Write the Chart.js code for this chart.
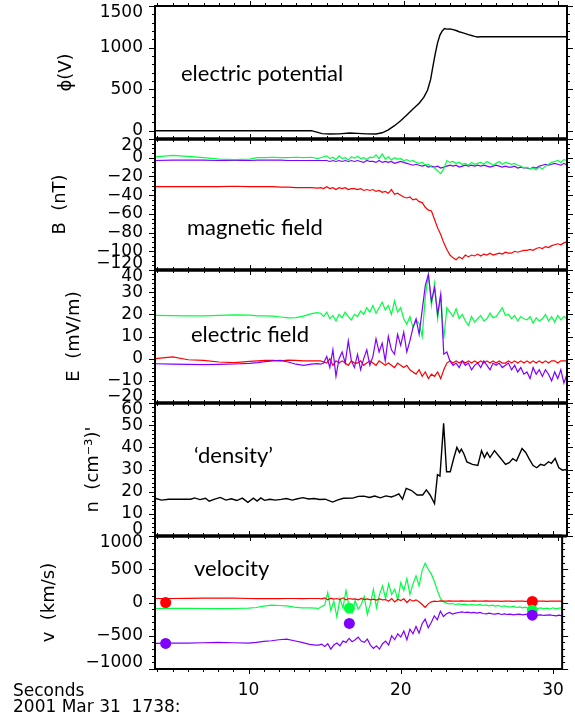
<!DOCTYPE html>
<html>
<head>
<meta charset="utf-8">
<script src="https://cdn.jsdelivr.net/npm/chart.js@4/dist/chart.umd.min.js"></script>
<style>
html, body { margin: 0; padding: 0; background: #fff; overflow: hidden; }
#page { position: relative; width: 575px; height: 719px; overflow: hidden; }
canvas { position: absolute; left: 0; top: -50px; }
.note { position: absolute; font: 22px Lato, sans-serif; line-height: 22px; color: #000; white-space: nowrap; }
.axis { position: absolute; left: 13px; font: 17px "DejaVu Sans", sans-serif; line-height: 17px; color: #000; white-space: pre; }
</style>
</head>
<body>
<div id="page">
<canvas id="phi" width="575" height="819"></canvas>
<canvas id="mag" width="575" height="819"></canvas>
<canvas id="efield" width="575" height="819"></canvas>
<canvas id="dens" width="575" height="819"></canvas>
<canvas id="vel" width="575" height="819"></canvas>
<div class="note" style="left:181px;top:62px">electric potential</div>
<div class="note" style="left:187px;top:216px">magnetic field</div>
<div class="note" style="left:191px;top:323px">electric field</div>
<div class="note" style="left:194px;top:444px">‘density’</div>
<div class="note" style="left:194px;top:557px">velocity</div>
<div class="axis" style="top:682px">Seconds</div>
<div class="axis" style="top:698px">2001 Mar 31  1738:</div>
</div>
<script>
// Time axis (seconds after 17:38)
const T_MIN = 3.85
const T_MAX = 30.6
const xTicks = [10, 20, 30]

// Panel 1: electric potential
const phiT = [3.85, 14.0, 14.3, 14.7, 15.2, 15.8, 16.5, 17.0, 17.6, 18.2, 18.6, 19.0, 19.4, 19.8, 20.2, 20.6, 21.0, 21.3, 21.55, 21.75, 21.9, 22.05, 22.2, 22.35, 22.5, 22.65, 22.8, 23.0, 23.2, 23.4, 23.6, 23.8, 24.0, 24.2, 24.4, 24.6, 24.8, 25.0, 30.6]
const phiV = [0, 0, -15, -35, -40, -38, -28, -32, -38, -40, -25, 10, 60, 120, 190, 260, 330, 400, 490, 620, 780, 930, 1060, 1150, 1200, 1228, 1222, 1225, 1215, 1205, 1190, 1180, 1168, 1155, 1145, 1135, 1128, 1130, 1130]
const phiTicks = [0, 500, 1000, 1500]

// shared time grid for B, E and v
const tFine = [3.85, 5, 6, 7, 8, 9, 10, 10.5, 11, 11.5, 12, 12.5, 13, 13.5, 14, 14.4,
	14.6, 14.8,
	15, 15.2, 15.4, 15.6, 15.8,
	16, 16.2, 16.4, 16.6, 16.8,
	17, 17.2, 17.4, 17.6, 17.8,
	18, 18.2, 18.4, 18.6, 18.8,
	19, 19.2, 19.4, 19.6, 19.8,
	20, 20.2, 20.4, 20.6, 20.8,
	21, 21.2, 21.4, 21.6, 21.8,
	22, 22.2, 22.4, 22.6, 22.8,
	23, 23.2, 23.4, 23.6, 23.8,
	24, 24.2, 24.4, 24.6, 24.8,
	25, 25.2, 25.4, 25.6, 25.8,
	26, 26.2, 26.4, 26.6, 26.8,
	27, 27.2, 27.4, 27.6, 27.8,
	28, 28.2, 28.4, 28.6, 28.8,
	29, 29.2, 29.4, 29.6, 29.8,
	30, 30.2, 30.4, 30.6]

// Panel 2: magnetic field (nT)
const bGreen = [1, 2.5, 1.5, 0, -1.5, -2, -1.5, 0, 0, 0.5, 0, 0, 0.5, 0, 0.5, -1,
	0, 1,
	2, -1, 0.5, -2, 2,
	-1, 0, -2.5, 1, -0.5,
	1.5, -1, 0, -2, 0.5,
	0, 3, -1, 4, -1.5,
	1, -2.5, 0, -1.5, -1,
	-3, -2, -4, -3, -5,
	-6, -5, -8, -7, -10,
	-11, -14, -17, -12, -3,
	-5, -4, -6, -5, -7,
	-6, -8, -5, -7, -6,
	-5, -7, -4, -6, -8,
	-6, -4, -7, -5, -6,
	-7, -6, -8, -9, -11,
	-10, -12, -11, -13, -10,
	-12, -9, -7, -5, -4,
	-3, -5, -2, -3]
const bPurple = [-3, -2.5, -2.5, -2.5, -3, -3, -3, -2.5, -2.5, -2.5, -2.5, -3, -3, -3, -3, -3,
	-3, -3,
	-3, -4, -3, -4, -3,
	-4, -3, -4, -3, -4,
	-3, -4, -5, -3, -4,
	-4, -5, -3, -5, -4,
	-5, -4, -6, -5, -4,
	-5, -6, -7, -8, -7,
	-8, -9, -8, -10, -9,
	-10, -9, -11, -10, -9,
	-8, -9, -8, -10, -9,
	-8, -9, -8, -9, -8,
	-9, -8, -9, -10, -9,
	-8, -9, -10, -9, -10,
	-10, -9, -11, -10, -11,
	-11, -12, -10, -11, -9,
	-8, -7, -8, -7, -6,
	-7, -8, -6, -8]
const bRed = [-31, -31, -31, -31, -31, -30.5, -31, -31, -31, -31, -31.5, -31.5, -32, -32, -32, -32.5,
	-32, -33,
	-31, -33, -32, -34, -32,
	-33, -32, -34, -33, -33,
	-34, -33, -35, -34, -35,
	-34, -36, -35, -37, -36,
	-38, -34, -39, -38, -40,
	-42, -43, -42, -45, -44,
	-47, -48, -53, -56, -57,
	-66, -75, -82, -91, -98,
	-104, -107, -109, -106, -108,
	-104, -106, -104, -105, -103,
	-105, -103, -104, -102, -104,
	-103, -102, -103, -101, -102,
	-102, -100, -101, -100, -99,
	-99, -98, -99, -97, -96,
	-97, -95, -96, -94, -93,
	-92, -93, -91, -90]
const bTicks = [-120, -100, -80, -60, -40, -20, 0, 20]

// Panel 3: electric field (mV/m)
const eGreen = [19.5, 19.4, 19.3, 19.3, 19.5, 19.8, 19.6, 19.3, 19.3, 19.2, 18.8, 18.4, 18.5, 19.2, 20.3, 20.8,
	20.5, 19,
	21, 18, 19.5, 17, 20,
	18.5, 21, 19, 17.5, 20,
	19, 21.5, 20, 23, 21,
	24, 20.5, 23, 25.5, 22,
	24, 20, 26, 21, 23,
	18, 15.5, 19, 14, 17,
	16, 10, 28, 38, 24,
	34, 18, 29, 9, 23,
	21, 19, 22.5, 18, 20,
	17, 15, 19, 16.5, 18,
	19.5, 17, 18, 20.5, 18.5,
	19, 21, 23, 19.5, 20,
	18, 19.5, 17, 19, 18,
	17.5, 19, 16, 18.5, 17,
	18, 20, 17, 19, 16.5,
	19.5, 17.5, 19, 18]
const ePurple = [-2.3, -2.5, -2.6, -2.7, -2.6, -2.4, -2.1, -1.8, -1.3, -1, -0.8, -1.5, -2.5, -3, -2.5, -2.2,
	-2.5, -2,
	1, -4, 4, -8, 0,
	3, -2, 8, -1, -4,
	2, -5, 0, 4, -3,
	1, 9, 3, 7, -1,
	10, 4, 2, 11, 6,
	12, 3, 8, 14, 18,
	11, 22, 33, 38, 26,
	32, 20, 29, 2, 3,
	-1, -3, -2, -4, -1,
	-3, -2, -5, -3, -2,
	-4, -1, -3, -5, -2,
	-3, -2, -4, -3, -2,
	-5, -3, -6, -4, -7,
	-6, -9, -4, -7, -5,
	-8, -5, -7, -10, -6,
	-9, -5, -11, -7]
const eRed = [0, 0.8, -0.5, -0.8, -1.5, -1.8, -1.2, -1, -0.8, -0.8, -1, -0.7, -0.8, -1, -1, -1,
	-1, -1.5,
	-2, 0, -3, -1, -2,
	-1, -2, -3, -1, -2,
	-2, -1, -3, -2, -1,
	-2, -3, -1, -2, -3,
	-2, -3, -4, -2, -3,
	-4, -3, -5, -6, -7,
	-5, -8, -6, -9, -7,
	-8, -6, -9, -5, -2,
	-1, -2, -1, -2, -1,
	-2, -1, -2, -1, -2,
	-1, -2, -1, -2, -1,
	-2, -1, -2, -2, -1,
	-2, -1, -2, -1, -2,
	-1, -2, -1, -2, -1,
	-2, -1, -2, -1, -1,
	-2, -1, -1, -1]
const eTicks = [-20, -10, 0, 10, 20, 30, 40]

// Panel 4: 'density' (cm^-3)
const nT = [3.91, 4.27, 4.74, 5.46, 6.18, 6.42, 6.77, 7.13, 7.37, 7.73, 8.09, 8.45, 8.81, 9.16, 9.52, 9.88, 10.24, 10.48, 10.72, 10.96, 11.31, 11.67, 12.03, 12.39, 12.75, 13.11, 13.46, 13.82, 14.18, 14.54, 14.9, 15.38, 15.73, 16.09, 16.69, 17.05, 17.41, 17.77, 18.12, 18.48, 18.84, 19.2, 19.44, 19.68, 19.92, 20.16, 20.51, 20.87, 21.23, 21.47, 21.71, 22.0, 22.19, 22.35, 22.59, 22.78, 23.02, 23.26, 23.45, 23.62, 23.74, 23.91, 24.1, 24.46, 24.81, 25.05, 25.24, 25.41, 25.6, 25.89, 26.25, 26.61, 26.85, 27.08, 27.32, 27.68, 27.92, 28.16, 28.4, 28.64, 28.88, 29.12, 29.4, 29.59, 29.83, 30.07, 30.31, 30.55, 30.74]
const nV = [16.9, 16.2, 16.6, 16.6, 16.6, 17.2, 16.4, 17.0, 15.7, 16.6, 17.4, 16.2, 16.8, 16.0, 17.1, 15.2, 17.1, 15.8, 17.2, 16.1, 16.6, 16.2, 16.5, 16.9, 16.2, 16.8, 17.3, 16.7, 16.9, 16.5, 16.6, 15.3, 16.3, 17.0, 17.1, 17.9, 18.0, 17.4, 18.0, 17.2, 18.1, 17.6, 18.2, 19.0, 16.6, 21.5, 20.5, 18.5, 18.5, 20.8, 18.5, 14.6, 27.7, 27.0, 50.8, 29, 29, 35.4, 40, 37.7, 39.2, 37, 33.4, 32.3, 31.8, 38.5, 35.4, 37.7, 35.4, 38.5, 35.4, 32.3, 33.1, 34.9, 33.8, 39.5, 37.7, 34.6, 31.8, 30.8, 32.3, 31.8, 33.5, 32.8, 35, 30.8, 29.7, 30, 27.7]
const nTicks = [0, 10, 20, 30, 40, 50, 60]

// Panel 5: velocity (km/s)
const vGreen = [-90, -88, -88, -90, -92, -90, -85, -75, -55, -40, -45, -50, -70, -80, -80, -85,
	-90, -60,
	-40, 150, -120, 20, -220,
	60, -80, 180, -60, -150,
	30, -100, -30, 90, -180,
	-20, 200, -80, 120, 250,
	60, 280, 120, 200, 40,
	300, 180, 360, 120, 280,
	400, 250, 480, 590, 500,
	430, 320, 180, 60, 10,
	-10, -20, -15, -30, -20,
	-30, -25, -40, -30, -35,
	-40, -30, -45, -35, -50,
	-40, -55, -45, -60, -50,
	-60, -70, -55, -75, -65,
	-80, -70, -90, -75, -85,
	-90, -80, -95, -85, -100,
	-80, -95, -85, -80]
const vPurple = [-615, -612, -610, -605, -600, -605, -610, -600, -585, -575, -560, -550, -575, -600, -630, -640,
	-640, -625,
	-660, -620, -700, -640, -610,
	-650, -580, -600, -540, -590,
	-560, -520, -580, -600, -550,
	-640, -690, -650, -700, -620,
	-580, -640, -500, -560, -470,
	-520, -430, -560, -400, -470,
	-360, -460, -320, -250, -380,
	-300, -200, -260, -130, -210,
	-170, -150, -175, -160, -150,
	-140, -150, -145, -155, -150,
	-160, -150, -165, -170, -160,
	-170, -175, -165, -180, -170,
	-180, -175, -185, -180, -175,
	-185, -180, -175, -185, -180,
	-190, -185, -195, -190, -185,
	-195, -200, -190, -200]
const vRed = [60, 60, 62, 65, 68, 65, 60, 58, 58, 57, 58, 60, 60, 58, 60, 60,
	60, 55,
	70, 40, 65, 50, 60,
	45, 70, 40, 60, 50,
	55, 40, 60, 45, 55,
	40, 50, 35, 55, 40,
	45, 20, 60, 10, 50,
	30, 55, 0, 45, 20,
	40, 10, -30, -75, -20,
	10, 20, 15, 25, 20,
	20, 25, 20, 22, 20,
	25, 20, 22, 20, 25,
	20, 22, 20, 25, 22,
	20, 22, 20, 18, 20,
	22, 20, 18, 20, 22,
	20, 18, 20, 22, 20,
	20, 22, 20, 18, 20,
	22, 20, 22, 20]
const vDotT = [4.55, 16.62, 28.64]
const vDotRed = [0, null, 15]
const vDotGreen = [null, -85, -115]
const vDotPurple = [-615, -315, -190]
const vTicks = [-1000, -500, 0, 500, 1000]

const GREEN = '#00ff40'
const PURPLE = '#8000ff'
const RED = '#ff0000'

// Layout of the stacked panels (page pixels)
const PANEL_TOP = [6, 139, 270, 403, 536]
const PANEL_BOTTOM = [139, 270, 403, 536, 669]
const SHIFT = 50 // canvases start 50px above the page
const LABEL_FONT = '17px "DejaVu Sans"'

function pts(t, v) {
	return t.map((x, i) => ({ x: x, y: v[i] }))
}

function line(t, v, color, width) {
	return { data: pts(t, v), borderColor: color, borderWidth: width || 1.2, pointRadius: 0, tension: 0, fill: false }
}

function dots(t, v, color) {
	return { data: pts(t, v), showLine: false, pointRadius: 5.5, pointBackgroundColor: color, pointBorderWidth: 0 }
}

// IDL-like frame: outward ticks on every side, edge labels pulled inside
const frame = {
	id: 'frame',
	afterDraw(chart, args, o) {
		const { ctx, chartArea: a } = chart
		const x = chart.scales.x
		const y = chart.scales.y
		ctx.save()
		ctx.strokeStyle = '#000'
		ctx.fillStyle = '#000'
		ctx.lineWidth = 1
		ctx.beginPath()
		for (let t = Math.ceil(x.min); t <= x.max; t++) {
			const px = Math.round(x.getPixelForValue(t)) + 0.5
			const len = t % 10 === 0 ? 5 : 3
			ctx.moveTo(px, a.top)
			ctx.lineTo(px, a.top - len)
			ctx.moveTo(px, a.bottom)
			ctx.lineTo(px, a.bottom + len)
		}
		const steps = Math.round((y.max - y.min) / o.minor)
		for (let k = 0; k <= steps; k++) {
			const v = y.min + k * o.minor
			const py = Math.round(y.getPixelForValue(v)) + 0.5
			const r = v / o.major
			const len = Math.abs(r - Math.round(r)) < 1e-6 ? 6 : 3
			ctx.moveTo(a.left, py)
			ctx.lineTo(a.left - len, py)
			ctx.moveTo(a.right, py)
			ctx.lineTo(a.right + len, py)
		}
		ctx.stroke()

		ctx.lineWidth = 2
		ctx.strokeRect(a.left, a.top, a.right - a.left, a.bottom - a.top)
		ctx.lineWidth = 3
		ctx.beginPath()
		if (o.thickTop) { ctx.moveTo(a.left, a.top); ctx.lineTo(a.right, a.top) }
		if (o.thickBottom) { ctx.moveTo(a.left, a.bottom); ctx.lineTo(a.right, a.bottom) }
		ctx.stroke()

		ctx.font = LABEL_FONT
		ctx.textAlign = 'right'
		ctx.textBaseline = 'middle'
		o.ticks.forEach(function(v) {
			let py = y.getPixelForValue(v)
			if (v === y.max) py += 7
			if (v === y.min) py -= 6
			ctx.fillText(String(v).replace('-', '\u2212'), a.left - 12, py)
		})
		ctx.restore()
	}
}

function panel(id, i, cfg) {
	const last = i === PANEL_TOP.length - 1
	const xAxisHeight = 40
	return new Chart(document.getElementById(id), {
		type: 'line',
		data: { datasets: cfg.datasets },
		options: {
			responsive: false,
			animation: false,
			events: [],
			layout: {
				padding: {
					left: cfg.titlePad,
					right: 8,
					top: PANEL_TOP[i] + SHIFT,
					bottom: 819 - SHIFT - PANEL_BOTTOM[i] - (last ? xAxisHeight : 0)
				}
			},
			plugins: {
				legend: { display: false },
				tooltip: { enabled: false },
				frame: { ticks: cfg.ticks, minor: cfg.minor, major: cfg.major, thickTop: i > 0, thickBottom: !last }
			},
			scales: {
				x: {
					type: 'linear',
					min: T_MIN,
					max: T_MAX,
					display: last,
					grid: { display: false, drawTicks: false },
					border: { display: false },
					ticks: { color: '#000', font: { family: 'DejaVu Sans', size: 17 }, padding: 11, maxRotation: 0, autoSkip: false },
					afterBuildTicks: function(s) { s.ticks = xTicks.map(v => ({ value: v })) },
					afterFit: last ? function(s) { s.height = xAxisHeight } : undefined
				},
				y: {
					min: cfg.min,
					max: cfg.max,
					grid: { display: false, drawTicks: false },
					border: { display: false },
					ticks: { display: false },
					title: {
						display: true,
						text: cfg.title,
						color: '#000',
						font: { family: 'DejaVu Sans', size: 18 },
						padding: { top: 4, bottom: 4 }
					},
					afterFit: function(s) { s.width = 155 - cfg.titlePad }
				}
			}
		},
		plugins: [frame]
	})
}

panel('phi', 0, {
	title: 'ϕ(V)', titlePad: 52, min: -100, max: 1500, ticks: phiTicks, minor: 100, major: 500,
	datasets: [line(phiT, phiV, '#000', 1.4)]
})

panel('mag', 1, {
	title: 'B  (nT)', titlePad: 46, min: -120, max: 20, ticks: bTicks, minor: 5, major: 20,
	datasets: [line(tFine, bGreen, GREEN), line(tFine, bPurple, PURPLE), line(tFine, bRed, RED)]
})

panel('efield', 2, {
	title: 'E  (mV/m)', titlePad: 60, min: -20, max: 40, ticks: eTicks, minor: 2, major: 10,
	datasets: [line(tFine, ePurple, PURPLE), line(tFine, eRed, RED), line(tFine, eGreen, GREEN)]
})

panel('dens', 3, {
	title: 'n  (cm\u207B\u00B3)\'', titlePad: 79, min: 0, max: 60, ticks: nTicks, minor: 2, major: 10,
	datasets: [line(nT, nV, '#000', 1.4)]
})

panel('vel', 4, {
	title: 'v  (km/s)', titlePad: 35, min: -1000, max: 1000, ticks: vTicks, minor: 100, major: 500,
	datasets: [
		dots(vDotT, vDotPurple, PURPLE),
		dots(vDotT, vDotGreen, GREEN),
		dots(vDotT, vDotRed, RED),
		line(tFine, vPurple, PURPLE),
		line(tFine, vRed, RED),
		line(tFine, vGreen, GREEN)
	]
})
</script>
</body>
</html>
